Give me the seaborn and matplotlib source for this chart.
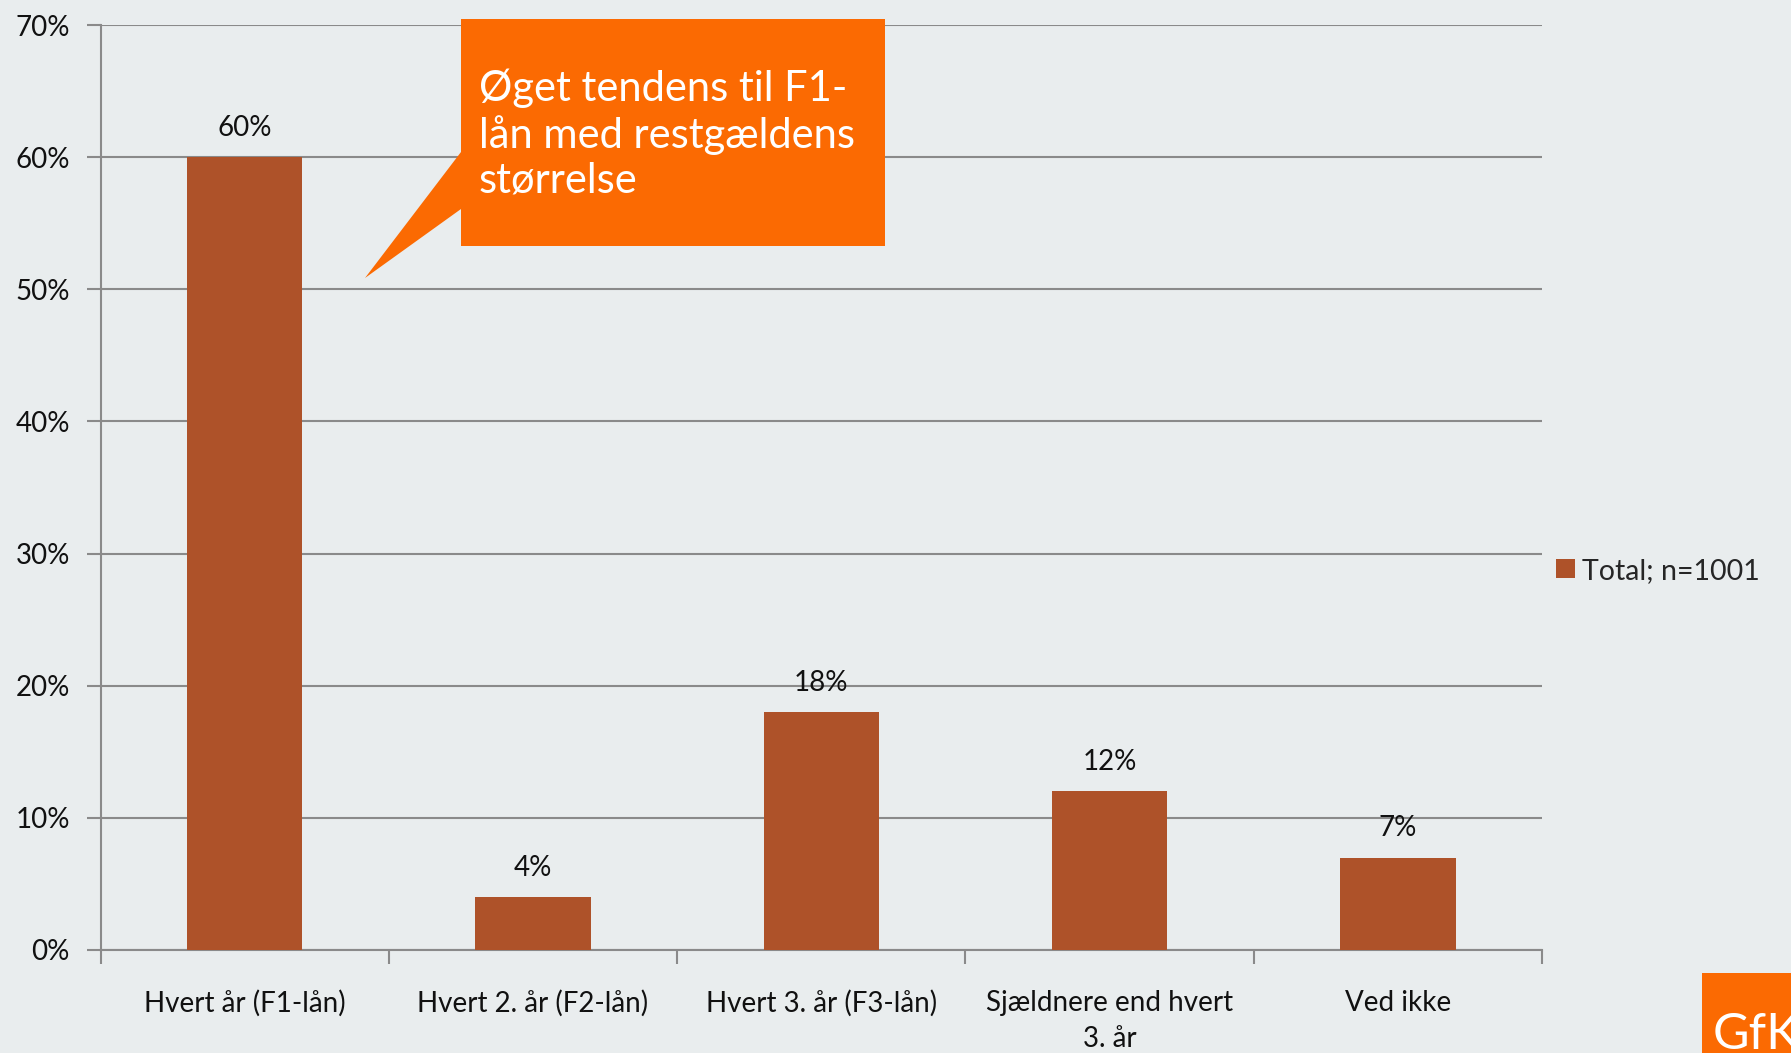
import matplotlib.pyplot as plt
import matplotlib.patches as mpatches
import numpy as np
import pandas as pd
import seaborn as sns

categories = ['Hvert år (F1-lån)', 'Hvert 2. år (F2-lån)', 'Hvert 3. år (F3-lån)',
              'Sjældnere end hvert\n3. år', 'Ved ikke']
values = [60, 4, 18, 12, 7]
series_name = 'Total; n=1001'
callout_text = 'Øget tendens til F1-\nlån med restgældens\nstørrelse'

bar_color = '#AE5229'
bg = '#E9EDEE'
orange = '#FB6A02'
grid_col = '#8A8A8A'

sns.set_style('white')
plt.rcParams['font.family'] = ['Lato', 'DejaVu Sans']

df = pd.DataFrame({'cat': categories, 'val': values})

W, H = 1791, 1053
fig = plt.figure(figsize=(W / 100, H / 100), dpi=100, facecolor=bg)
ax = fig.add_axes([100.5 / W, 1 - 950 / H, (1542 - 100.5) / W, (950 - 25) / H])
ax.set_facecolor(bg)

sns.barplot(data=df, x='cat', y='val', color=bar_color, width=0.4,
            saturation=1, ax=ax, zorder=3, label=series_name, linewidth=0)

ax.set_ylim(0, 70)
ax.set_xlim(-0.5, len(categories) - 0.5)
ax.set_yticks(np.arange(0, 71, 10))
ax.set_yticklabels([f'{v}%' for v in range(0, 71, 10)], fontsize=20, color='#111111')
ax.yaxis.grid(True, color=grid_col, lw=1.5, zorder=0)
ax.tick_params(axis='y', length=10, width=1.5, color=grid_col, pad=12, left=True)
ax.tick_params(axis='x', which='major', length=0, pad=29, labelsize=20, labelcolor='#111111')
for lab in ax.get_xticklabels():
    lab.set_linespacing(1.45)
ax.set_xticks(np.arange(-0.5, len(categories)), minor=True)
ax.tick_params(axis='x', which='minor', length=10, width=1.5, color=grid_col, bottom=True)
ax.set_xlabel('')
ax.set_ylabel('')
for s in ['top', 'right']:
    ax.spines[s].set_visible(False)
for s in ['left', 'bottom']:
    ax.spines[s].set_color(grid_col)
    ax.spines[s].set_linewidth(1.5)

for i, v in enumerate(values):
    ax.annotate(f'{v}%', (i, v), xytext=(0, 21), textcoords='offset points',
                ha='center', va='center', fontsize=20, color='#111111')

# legend
leg = ax.legend(loc='center left', bbox_to_anchor=(1.002, 0.41), frameon=False,
                fontsize=20.5, handlelength=0.65, handleheight=0.65, handletextpad=0.25,
                borderaxespad=0)

# callout box
def fx(px):
    return px / W

def fy(py):
    return 1 - py / H

pts = [(461, 19), (885, 19), (885, 246), (461, 246), (461, 209), (365, 278), (461, 152)]
callout = mpatches.Polygon([(fx(x), fy(y)) for x, y in pts], closed=True,
                           transform=fig.transFigure, facecolor=orange,
                           edgecolor='none', zorder=5)
fig.patches.append(callout)
fig.text(fx(479), fy(134), callout_text, color='white', fontsize=30,
         ha='left', va='center', linespacing=1.2, zorder=6)

# GfK logo
logo = mpatches.Rectangle((fx(1702), 0), fx(W - 1702), fy(973),
                          transform=fig.transFigure, facecolor=orange,
                          edgecolor='none', zorder=5)
fig.patches.append(logo)
fig.text(fx(1713), fy(1049), 'GfK', color='white', fontsize=36,
         ha='left', va='baseline', zorder=6)

fig.savefig('out.png', dpi=100, facecolor=bg)
